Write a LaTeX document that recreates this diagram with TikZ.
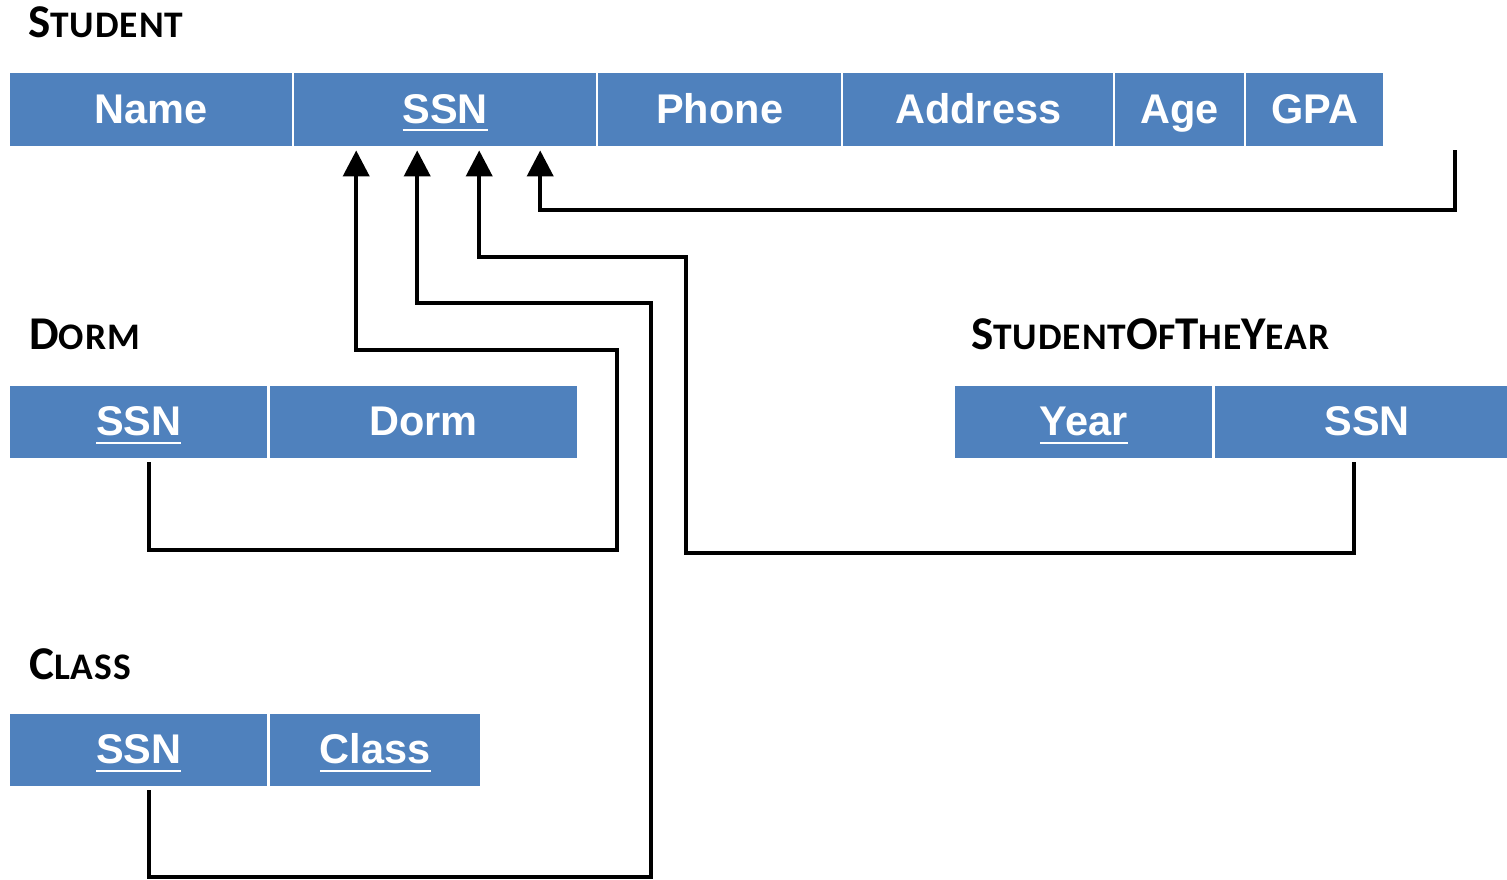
\documentclass[tikz,border=0pt]{standalone}
\usepackage{fontspec}
\setmainfont{Liberation Sans}
\newfontfamily\titlefont[LetterSpace=2.5]{Carlito}
\usetikzlibrary{arrows.meta}
\definecolor{cellblue}{RGB}{79,129,189}
% underlined key attribute
\newcommand{\keyattr}[1]{\setbox0=\hbox{#1}\leavevmode\rlap{\rule[-8pt]{\wd0}{2.2pt}}\box0}
% small-caps style relation name: capital, then smaller capitals
\newcommand{\capsc}[2]{{\fontsize{47}{52}\selectfont #1}{\fontsize{37.5}{42}\selectfont #2}}
\begin{document}
\begin{tikzpicture}[x=1pt,y=-1pt,
  cell/.style={fill=cellblue, text=white, font=\fontsize{41.5}{48}\selectfont\bfseries,
    inner sep=0pt, minimum height=73pt, text height=31pt, text depth=4pt, anchor=north west},
  relname/.style={font=\titlefont\bfseries, anchor=base west, inner sep=0pt},
  fk/.style={line width=4pt, -{Triangle[length=26pt,width=26pt]}, shorten >=4pt, shorten <=4pt}]
\useasboundingbox (0,0) rectangle (1507,879);

% STUDENT
\node[relname] (tStudent) at (28,37) {\capsc{S}{TUDENT}};
\node[cell, minimum width=282pt] (sName) at (10,73) {Name};
\node[cell, minimum width=302pt] (sSSN) at (294,73) {\keyattr{SSN}};
\node[cell, minimum width=243pt] (sPhone) at (598,73) {Phone};
\node[cell, minimum width=270pt] (sAddress) at (843,73) {Address};
\node[cell, minimum width=129pt] (sAge) at (1115,73) {Age};
\node[cell, minimum width=137pt] (sGPA) at (1246,73) {GPA};

% DORM
\node[relname] (tDorm) at (29,349) {\capsc{D}{ORM}};
\node[cell, minimum width=257pt, minimum height=72pt] (dSSN) at (10,386) {\keyattr{SSN}};
\node[cell, minimum width=307pt, minimum height=72pt] (dDorm) at (270,386) {Dorm};

% STUDENTOFTHEYEAR (the SSN cell runs on past the right edge)
\node[relname] (tSoty) at (971,349) {\capsc{S}{TUDENT}\capsc{O}{F}\capsc{T}{HE}\capsc{Y}{EAR}};
\node[cell, minimum width=257pt, minimum height=72pt] (yYear) at (955,386) {\keyattr{Year}};
\node[cell, minimum width=304pt, minimum height=72pt] (ySSN) at (1215,386) {SSN};

% CLASS
\node[relname] (tClass) at (29,679) {\capsc{C}{LASS}};
\node[cell, minimum width=257pt, minimum height=72pt] (cSSN) at (10,714) {\keyattr{SSN}};
\node[cell, minimum width=210pt, minimum height=72pt] (cClass) at (270,714) {\keyattr{Class}};

% foreign keys into STUDENT.SSN
\draw[fk] ([xshift=10.5pt]dSSN.south) -- ++(0,92) -| (617,350) -| ([xshift=-89pt]sSSN.south);
\draw[fk] ([xshift=10.5pt]cSSN.south) -- ++(0,91) -| (651,303) -| ([xshift=-28pt]sSSN.south);
\draw[fk] ([xshift=-13pt]ySSN.south) -- ++(0,95) -| (686,257) -| ([xshift=34pt]sSSN.south);
\coordinate (gpaLink) at (1455,150);
\draw[fk, shorten <=0pt] (gpaLink) -- ++(0,60) -| ([xshift=95pt]sSSN.south);
\end{tikzpicture}
\end{document}
